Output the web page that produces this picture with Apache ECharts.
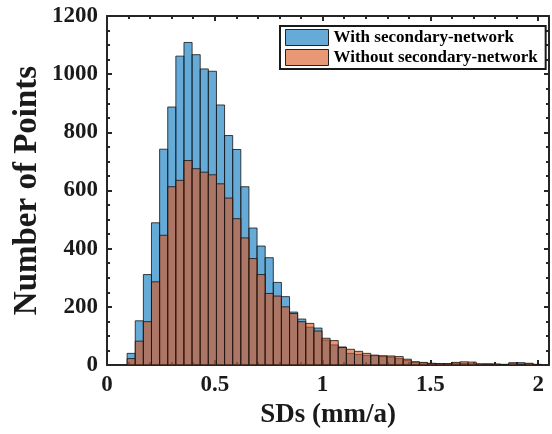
<!DOCTYPE html>
<html>
<head>
<meta charset="utf-8">
<script src="https://cdn.jsdelivr.net/npm/echarts@6/dist/echarts.min.js"></script>
<style>html,body{margin:0;padding:0;background:#fff}#c{width:552px;height:434px}</style>
</head>
<body>
<div id="c"></div>
<script>
// Histogram bin definition (SDs, mm/a)
const binStart = 0.0934;
const binWidth = 0.03766;
// Counts per bin
const withSecondary = [40,152,311,489,742,887,1062,1109,1067,1018,1010,894,789,741,613,471,409,369,284,235,182,158,130,127,86,69,62,40,36,33,32,29,27,22,16,10,7,5,4,4,6,5,4,3,4,3,2,5,8,4,2];
const withoutSecondary = [22,82,149,286,446,613,635,703,675,663,654,623,574,503,437,366,311,246,237,200,177,149,143,117,92,84,60,54,47,40,34,32,31,29,20,11,9,6,5,5,9,11,10,4,3,3,2,8,3,6,2];
const seriesNames = ['With secondary-network', 'Without secondary-network'];
const xTicks = [0, 0.5, 1, 1.5, 2];
const yTicks = [0, 200, 400, 600, 800, 1000, 1200];

function toData(counts) {
  return counts.map((c, i) => [binStart + i * binWidth, binStart + (i + 1) * binWidth, c]);
}
const colors = ['rgba(0,114,189,0.6)', 'rgba(217,83,25,0.6)'];
function makeRender(color) {
  return function (params, api) {
    const p0 = api.coord([api.value(0), api.value(2)]);
    const p1 = api.coord([api.value(1), 0]);
    return {
      type: 'rect',
      shape: { x: p0[0], y: p0[1], width: p1[0] - p0[0], height: p1[1] - p0[1] },
      style: { fill: color, stroke: 'rgba(20,20,20,0.8)', lineWidth: 1 }
    };
  };
}
const font = 'Liberation Serif';
const axisLine = { show: true, onZero: false, lineStyle: { color: '#262626', width: 2 } };
const tick = { inside: true, length: 5, lineStyle: { color: '#262626', width: 2 } };
const chart = echarts.init(document.getElementById('c'));
chart.setOption({
  animation: false,
  backgroundColor: '#fff',
  grid: { left: 107, right: 3, top: 16, bottom: 69, containLabel: false, outerBoundsMode: 'none' },
  legend: {
    orient: 'vertical', left: 280, top: 26,
    data: seriesNames,
    icon: 'rect', itemWidth: 43, itemHeight: 16, itemGap: 3,
    padding: [3, 8, 3, 5],
    borderColor: '#1a1a1a', borderWidth: 2, backgroundColor: '#fff',
    itemStyle: { borderColor: '#222', borderWidth: 1 },
    textStyle: { fontFamily: font, fontWeight: 'bold', fontSize: 17, color: '#000' }
  },
  xAxis: [{
    type: 'value', min: 0, max: 2.05, interval: 0.5,
    name: 'SDs (mm/a)', nameLocation: 'middle', nameGap: 37,
    nameTextStyle: { fontFamily: font, fontWeight: 'bold', fontSize: 27, color: '#1a1a1a' },
    axisLine: axisLine, axisTick: tick,
    minorTick: { show: true, splitNumber: 5, length: 3, lineStyle: { color: '#262626', width: 2 } },
    splitLine: { show: false }, minorSplitLine: { show: false },
    axisLabel: { showMaxLabel: false, margin: 9, fontFamily: font, fontWeight: 'bold', fontSize: 23, color: '#1a1a1a',
      formatter: v => xTicks.includes(v) ? String(v) : '' }
  }, {
    type: 'value', min: 0, max: 2.05, interval: 0.5, position: 'top',
    axisLine: axisLine, axisTick: tick,
    minorTick: { show: true, splitNumber: 5, length: 3, lineStyle: { color: '#262626', width: 2 } },
    splitLine: { show: false }, axisLabel: { show: false }
  }],
  yAxis: [{
    type: 'value', min: 0, max: 1200, interval: 200,
    name: 'Number of Points', nameLocation: 'middle', nameGap: 63, nameMoveOverlap: false,
    nameTextStyle: { fontFamily: font, fontWeight: 'bold', fontSize: 33, color: '#1a1a1a' },
    axisLine: axisLine, axisTick: tick,
    minorTick: { show: true, splitNumber: 4, length: 3, lineStyle: { color: '#262626', width: 2 } },
    splitLine: { show: false },
    axisLabel: { margin: 9, fontFamily: font, fontWeight: 'bold', fontSize: 23, color: '#1a1a1a',
      formatter: v => yTicks.includes(v) ? String(v) : '' }
  }, {
    type: 'value', min: 0, max: 1200, interval: 200, position: 'right',
    axisLine: axisLine, axisTick: tick,
    minorTick: { show: true, splitNumber: 4, length: 3, lineStyle: { color: '#262626', width: 2 } },
    splitLine: { show: false }, axisLabel: { show: false }
  }],
  series: [{
    name: seriesNames[0], type: 'custom', renderItem: makeRender(colors[0]),
    itemStyle: { color: colors[0] },
    encode: { x: [0, 1], y: 2 }, data: toData(withSecondary), clip: true, z: 2
  }, {
    name: seriesNames[1], type: 'custom', renderItem: makeRender(colors[1]),
    itemStyle: { color: colors[1] },
    encode: { x: [0, 1], y: 2 }, data: toData(withoutSecondary), clip: true, z: 3
  }]
});
</script>
</body>
</html>
